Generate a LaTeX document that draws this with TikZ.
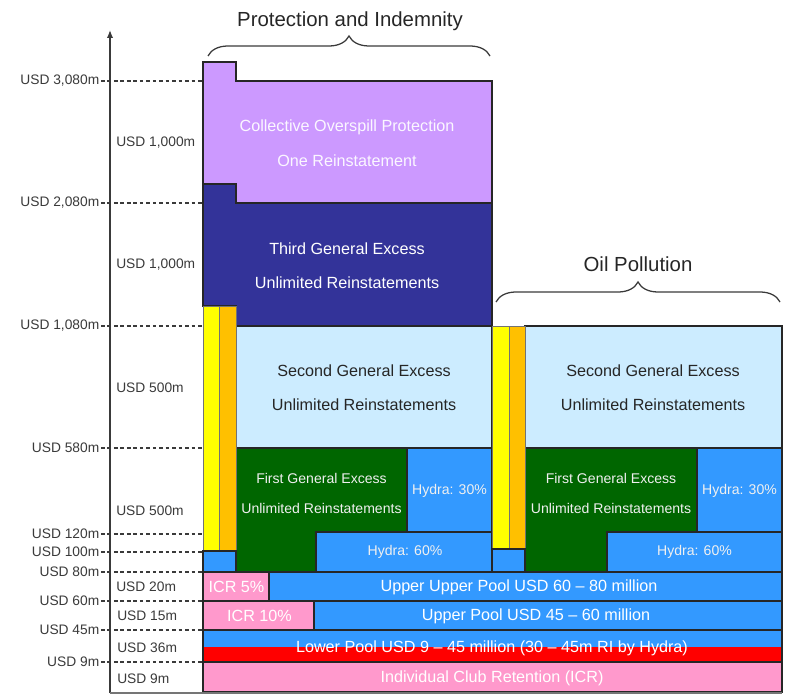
\documentclass[tikz,border=0pt]{standalone}
\usepackage{fontspec}
\setmainfont{Liberation Sans}
\usetikzlibrary{arrows.meta,decorations.pathreplacing}

\definecolor{viola}{HTML}{CC99FF}
\definecolor{blunotte}{HTML}{333399}
\definecolor{azzurro}{HTML}{CCECFF}
\definecolor{verde}{HTML}{006600}
\definecolor{blu}{HTML}{3399FF}
\definecolor{giallo}{HTML}{FFFF00}
\definecolor{arancio}{HTML}{FFC000}
\definecolor{rosa}{HTML}{FF99CC}
\definecolor{rosso}{HTML}{FF0000}
\definecolor{grigio}{HTML}{3A3A3A}

\tikzset{
  blocco/.style={draw=black!85, line width=0.8pt},
  barra/.style={draw=black!55, line width=0.5pt},
  quota/.style={font=\fontsize{9.8}{11}\selectfont, text=grigio, inner sep=1pt, anchor=east},
  valore/.style={font=\fontsize{9.8}{11}\selectfont, text=grigio, inner sep=0pt, anchor=west},
  tratto/.style={grigio, line width=0.9pt, dash pattern=on 2.6pt off 2pt},
  titolo/.style={font=\fontsize{14.5}{17}\selectfont, text=black!85, inner sep=0pt},
  testo/.style={font=\fontsize{11.5}{24.5}\selectfont, align=center, inner sep=0pt},
  piccolo/.style={font=\fontsize{10}{21.3}\selectfont, align=center, text=white!94!black, inner sep=0pt},
  graffa/.style={decorate, decoration={brace, amplitude=0.5cm}, grigio, line width=0.9pt},
}

\begin{document}
\begin{tikzpicture}[x=0.025cm, y=-0.025cm]
  % Area del disegno
  \useasboundingbox (0,0) rectangle (807,695);

  % Strati P&I
  \draw[blocco, fill=viola] (203,62) -- (236,62) -- (236,81) -- (492,81) -- (492,203) -- (236,203) -- (236,184) -- (203,184) -- cycle;
  \draw[blocco, fill=blunotte] (203,184) -- (236,184) -- (236,203) -- (492,203) -- (492,326) -- (236,326) -- (236,306) -- (203,306) -- cycle;
  \draw[blocco, fill=azzurro] (236,326) rectangle (492,448);
  \draw[blocco, fill=verde] (236,448) rectangle (407,572);
  \draw[blocco, fill=blu] (407,448) rectangle (492,532);
  \draw[blocco, fill=blu] (316,532) rectangle (492,572);
  \draw[barra, fill=giallo] (203,306) rectangle (219,551);
  \draw[barra, fill=arancio] (219,306) rectangle (236,551);
  \draw[blocco, fill=blu] (203,551) rectangle (236,572);

  % Strati Oil Pollution
  \draw[blocco, fill=azzurro] (525,326) rectangle (782,448);
  \draw[blocco, fill=verde] (525,448) rectangle (697,572);
  \draw[blocco, fill=blu] (697,448) rectangle (782,532);
  \draw[blocco, fill=blu] (607,532) rectangle (782,572);
  \draw[barra, fill=giallo] (492,326) rectangle (509,549);
  \draw[barra, fill=arancio] (509,326) rectangle (525,549);
  \draw[blocco, fill=blu] (492,549) rectangle (525,572);

  % Pool e ritenzione
  \draw[blocco, fill=rosa] (203,572) rectangle (269,601);
  \draw[blocco, fill=blu] (269,572) rectangle (782,601);
  \draw[blocco, fill=rosa] (203,601) rectangle (314,630);
  \draw[blocco, fill=blu] (314,601) rectangle (782,630);
  \fill[blu] (203,630) rectangle (782,647);
  \fill[rosso] (203,647) rectangle (782,662);
  \draw[blocco] (203,630) rectangle (782,662);
  \draw[blocco, fill=rosa] (203,662) rectangle (782,692);

  % Asse e linea di base
  \coordinate (origine) at (110,693);
  \coordinate (cima) at (110,30);
  \coordinate (fondo) at (782,693);
  \draw[grigio, line width=1pt, -{Latex[length=2mm,width=1.6mm]}] (origine) -- (cima);
  \draw[grigio!70, line width=1.4pt] (origine) -- (fondo);

  % Quote e linee tratteggiate
  \foreach \y/\etich [count=\i] in {81/{USD 3,080m}, 203/{USD 2,080m}, 326/{USD 1,080m}, 448/{USD 580m}, 534/{USD 120m}, 552/{USD 100m}, 572/{USD 80m}, 601/{USD 60m}, 630/{USD 45m}, 662/{USD 9m}} {
    \coordinate (fine\i) at (203,\y);
    \node[quota] (quota\i) at (101,\y) {\etich};
    \draw[tratto] (quota\i.east) -- (fine\i);
  }

  % Ampiezze degli strati
  \node[valore] (ampiezza1) at (116,143) {USD 1,000m};
  \node[valore] (ampiezza2) at (116,265) {USD 1,000m};
  \node[valore] (ampiezza3) at (116,388) {USD 500m};
  \node[valore] (ampiezza4) at (116,511) {USD 500m};
  \node[valore] (ampiezza5) at (116,587) {USD 20m};
  \node[valore] (ampiezza6) at (117,616) {USD 15m};
  \node[valore] (ampiezza7) at (117,648) {USD 36m};
  \node[valore] (ampiezza8) at (117,679) {USD 9m};

  % Testi P&I
  \node[testo, text=white!92!viola] (overspill) at (347,143) {Collective Overspill Protection\\One Reinstatement};
  \node[testo, text=white] (terzo) at (347,265.5) {Third General Excess\\Unlimited Reinstatements};
  \node[testo, text=black!85] (secondo) at (364,387.5) {Second General Excess\\Unlimited Reinstatements};
  \node[piccolo] (primo) at (321.5,493) {First General Excess\\Unlimited Reinstatements};
  \node[piccolo] (hydraA) at (449.5,491) {Hydra: 30\%};
  \node[piccolo] (hydraB) at (405,552) {Hydra: 60\%};

  % Testi Oil Pollution
  \node[testo, text=black!85] (secondoOP) at (653,387.5) {Second General Excess\\Unlimited Reinstatements};
  \node[piccolo] (primoOP) at (611,493) {First General Excess\\Unlimited Reinstatements};
  \node[piccolo] (hydraAOP) at (739.5,491) {Hydra: 30\%};
  \node[piccolo] (hydraBOP) at (694.5,552) {Hydra: 60\%};

  % Testi dei pool
  \node[testo, text=white] (icrA) at (236.5,587) {ICR 5\%};
  \node[testo, text=white] (uupool) at (519,587) {Upper Upper Pool USD 60 -- 80 million};
  \node[testo, text=white] (icrB) at (259.5,616) {ICR 10\%};
  \node[testo, text=white] (upool) at (536,616) {Upper Pool USD 45 -- 60 million};
  \node[testo, text=white] (lpool) at (492,648) {Lower Pool USD 9 -- 45 million (30 -- 45m RI by Hydra)};
  \node[testo, text=white] (icr) at (492,678) {Individual Club Retention (ICR)};

  % Graffe e titoli
  \coordinate (piA) at (208,56);
  \coordinate (piB) at (490,56);
  \draw[graffa] (piA) -- (piB);
  \node[titolo] (pi) at (350,21) {Protection and Indemnity};
  \coordinate (opA) at (496,302);
  \coordinate (opB) at (780,302);
  \draw[graffa] (opA) -- (opB);
  \node[titolo] (op) at (638,264) {Oil Pollution};
\end{tikzpicture}
\end{document}
